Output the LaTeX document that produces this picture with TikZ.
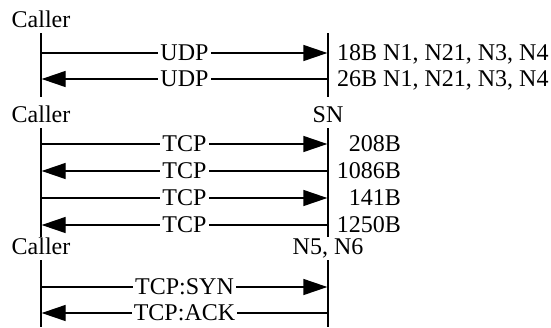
\documentclass[tikz,border=0pt]{standalone}
\usepackage{fontspec}
\setmainfont{Liberation Serif}
\usetikzlibrary{arrows.meta}
\begin{document}
\begin{tikzpicture}[x=1pt,y=-1pt,
  lbl/.style={font=\fontsize{24}{28}\selectfont, inner sep=0pt},
  mlbl/.style={lbl, fill=white, inner xsep=2pt, inner ysep=1pt},
  life/.style={line width=1.3pt},
  msg/.style={line width=1.3pt, -{Triangle[length=24pt,width=16pt]}, shorten >=0.65pt},
  msgl/.style={line width=1.3pt, {Triangle[length=24pt,width=16pt]}-, shorten <=0.65pt}]
\useasboundingbox (0,0) rectangle (551,327);
% ---------- section 1
\node[lbl, anchor=base] (c1) at (41,27) {Caller};
\coordinate (l1t) at (41,33); \coordinate (l1b) at (41,97);
\coordinate (r1t) at (328,33); \coordinate (r1b) at (328,97);
\draw[life] (l1t) -- (l1b);
\draw[life] (r1t) -- (r1b);
\coordinate (a1l) at (41,53); \coordinate (a1r) at (328,53);
\coordinate (a2l) at (41,79); \coordinate (a2r) at (328,79);
\draw[msg] (a1l) -- node[mlbl] (u1) {UDP} (a1r);
\draw[msgl] (a2l) -- node[mlbl] (u2) {UDP} (a2r);
\node[lbl, anchor=base west] (t1) at (337,60) {18B N1, N21, N3, N4};
\node[lbl, anchor=base west] (t2) at (337,86) {26B N1, N21, N3, N4};
% ---------- section 2
\node[lbl, anchor=base] (c2) at (41,122) {Caller};
\node[lbl, anchor=base] (sn) at (328,122) {SN};
\coordinate (l2t) at (41,128); \coordinate (l2b) at (41,237);
\coordinate (r2t) at (328,128); \coordinate (r2b) at (328,237);
\draw[life] (l2t) -- (l2b);
\draw[life] (r2t) -- (r2b);
\coordinate (b1l) at (41,144); \coordinate (b1r) at (328,144);
\coordinate (b2l) at (41,171); \coordinate (b2r) at (328,171);
\coordinate (b3l) at (41,198); \coordinate (b3r) at (328,198);
\coordinate (b4l) at (41,225); \coordinate (b4r) at (328,225);
\draw[msg] (b1l) -- node[mlbl] (p1) {TCP} (b1r);
\draw[msgl] (b2l) -- node[mlbl] (p2) {TCP} (b2r);
\draw[msg] (b3l) -- node[mlbl] (p3) {TCP} (b3r);
\draw[msgl] (b4l) -- node[mlbl] (p4) {TCP} (b4r);
\node[lbl, anchor=base east] (s1) at (401,151) {208B};
\node[lbl, anchor=base east] (s2) at (401,178) {1086B};
\node[lbl, anchor=base east] (s3) at (401,205) {141B};
\node[lbl, anchor=base east] (s4) at (401,232) {1250B};
% ---------- section 3
\node[lbl, anchor=base] (c3) at (41,254) {Caller};
\node[lbl, anchor=base] (n56) at (328,254) {N5, N6};
\coordinate (l3t) at (41,260); \coordinate (l3b) at (41,327);
\coordinate (r3t) at (328,260); \coordinate (r3b) at (328,327);
\draw[life] (l3t) -- (l3b);
\draw[life] (r3t) -- (r3b);
\coordinate (d1l) at (41,287); \coordinate (d1r) at (328,287);
\coordinate (d2l) at (41,313); \coordinate (d2r) at (328,313);
\draw[msg] (d1l) -- node[mlbl] (syn) {TCP:SYN} (d1r);
\draw[msgl] (d2l) -- node[mlbl] (ack) {TCP:ACK} (d2r);
\end{tikzpicture}
\end{document}
